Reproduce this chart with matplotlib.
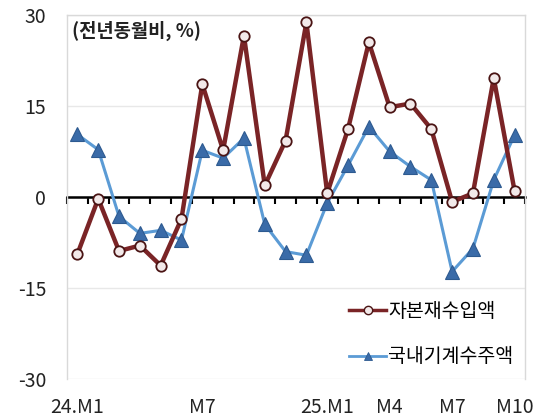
import matplotlib.pyplot as plt
import matplotlib.transforms as mtransforms
from matplotlib.lines import Line2D
import numpy as np

plt.rcParams['font.family'] = ['Noto Sans CJK KR', 'DejaVu Sans']
plt.rcParams['font.size'] = 14

# Data (YoY %, 24.M1 ~ 25.M10)
months = ['24.M1', 'M2', 'M3', 'M4', 'M5', 'M6', 'M7', 'M8', 'M9', 'M10', 'M11', 'M12',
          '25.M1', 'M2', 'M3', 'M4', 'M5', 'M6', 'M7', 'M8', 'M9', 'M10']
capital_imports = [-9.4, -0.3, -8.9, -8.0, -11.3, -3.6, 18.6, 7.7, 26.6, 1.9, 9.3, 28.8,
                   0.6, 11.2, 25.5, 14.8, 15.4, 11.2, -0.8, 0.6, 19.6, 1.0]
machinery_orders = [10.3, 7.8, -3.2, -6.0, -5.5, -7.1, 7.7, 6.4, 9.7, -4.5, -9.0, -9.6,
                    -1.0, 5.2, 11.6, 7.5, 5.0, 2.8, -12.3, -8.5, 2.8, 10.2]
label_idx = [0, 6, 12, 15, 18, 21]
label_text = ['24.M1', 'M7', '25.M1', 'M4', 'M7', 'M10']

red = '#7A2426'
blue = '#5B9BD5'

fig = plt.figure(figsize=(5.42, 4.17), dpi=100)
ax = fig.add_axes([0.1236, 0.0911, 0.845, 0.873])

x = np.arange(len(months))
ax.plot(x, capital_imports, color=red, lw=3.2, marker='o', ms=7.5,
        mfc='#F2E9E9', mec='#4A1414', mew=1.3, zorder=4)
ax.plot(x, machinery_orders, color=blue, lw=2.2, marker='^', ms=10,
        mfc='#3A6BA8', mec='#2D5A90', mew=0.8, zorder=3)

ax.set_xlim(-0.5, len(months) - 0.5)
ax.set_ylim(-30, 30)
ax.set_yticks([-30, -15, 0, 15, 30])
ax.set_yticklabels(['-30', '-15', '0', '15', '30'], fontsize=14, color='#222222')
ax.tick_params(axis='y', length=0, pad=15)
ax.grid(axis='y', color='#E8E8E8', lw=1.0)
ax.set_axisbelow(True)

# zero line axis with boundary ticks
ax.spines['bottom'].set_position(('data', 0))
ax.spines['bottom'].set_color('black')
ax.spines['bottom'].set_linewidth(1.8)
ax.spines['bottom'].set_zorder(2)
ax.set_xticks(np.arange(-0.5, len(months), 1.0))
ax.set_xticklabels([])
ax.tick_params(axis='x', direction='out', length=5, width=1.5, color='black')
for s in ['left', 'right', 'top']:
    ax.spines[s].set_color('#D9D9D9')
    ax.spines[s].set_linewidth(1.0)

trans = mtransforms.blended_transform_factory(ax.transData, ax.transAxes)
for i, t in zip(label_idx, label_text):
    ax.text(i, -0.05, t, transform=trans, ha='center', va='top', fontsize=14,
            color='#222222')

ax.text(0.01, 0.985, '(전년동월비, %)', transform=ax.transAxes, ha='left', va='top',
        fontsize=13.5, fontweight='bold', color='#222222')

handles = [
    Line2D([], [], color=red, lw=2.5, marker='o', ms=6, mfc='#F2E9E9', mec='#4A1414', mew=1.0),
    Line2D([], [], color=blue, lw=2.0, marker='^', ms=6, mfc='#3A6BA8', mec='#2D5A90', mew=0.6),
]
ax.legend(handles, ['자본재수입액', '국내기계수주액'], loc='lower right',
          bbox_to_anchor=(1.0, 0.0), frameon=False, fontsize=14,
          handlelength=1.9, handletextpad=0.1, labelspacing=1.25, borderaxespad=0.2)

plt.savefig('out.png', dpi=100)
